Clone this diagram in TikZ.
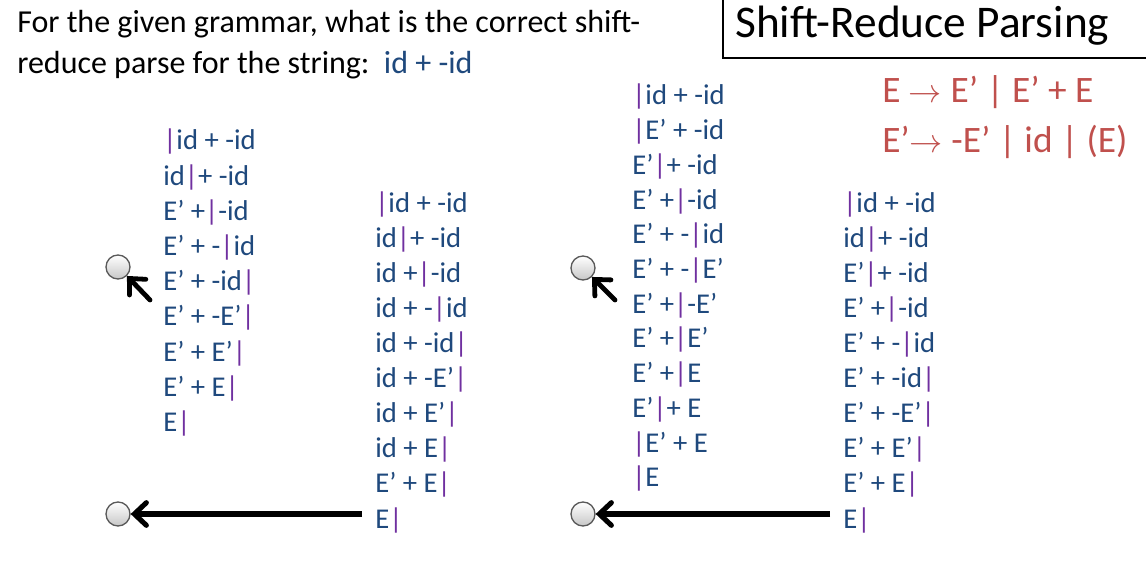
\documentclass[tikz,border=0pt]{standalone}
\usepackage{fontspec}
\setmainfont{Carlito}
\usetikzlibrary{arrows.meta}
\definecolor{navy}{HTML}{1F497D}
\definecolor{barpurple}{HTML}{7030A0}
\definecolor{gramred}{HTML}{C0504D}
\newcommand\pb{\textcolor{barpurple}{|}}
\tikzset{
  ln/.style={anchor=base west, inner sep=0pt, text=navy, font=\fontsize{21.5}{25}\selectfont},
  qtext/.style={anchor=base west, inner sep=0pt, text=black, font=\fontsize{24}{28}\selectfont},
  gram/.style={anchor=base west, inner sep=0pt, text=gramred, font=\fontsize{28}{32}\selectfont},
  radio/.style={circle, minimum size=18pt, inner sep=0pt, draw=black!65, line width=1pt, top color=white, bottom color=black!22},
  ptr/.style={draw=black, line width=3.6pt, line cap=round, line join=round, -{Straight Barb[length=9pt,width=17pt,line cap=round]}},
  lptr/.style={draw=black, line width=3.8pt, line join=round, -{Straight Barb[length=9pt,width=17pt,line cap=round]}},
}
\begin{document}
\begin{tikzpicture}[x=0.75pt,y=-0.75pt]
\useasboundingbox (0,0) rectangle (1146,573);
\fill[white] (0,0) rectangle (1146,573);
% question
\node[qtext] (q1) at (17,33) {For the given grammar, what is the correct shift-};
\node[qtext] (q2) at (17,74) {reduce parse for the string:\ \ \textcolor{navy}{id + -id}};
% title box
\draw[black, line width=1pt] (723,-2) -- (723,58) -- (1148,58);
\node[anchor=base west, inner sep=0pt, font=\fontsize{34}{38}\selectfont] (title) at (735,38) {Shift-Reduce Parsing};
% grammar
\node[gram] (g1) at (882,103) {E \ensuremath{\rightarrow} E’ | E’ + E};
\node[gram] (g2) at (882,153) {E’\ensuremath{\rightarrow} -E’ | id | (E)};
% column 1
\def\cy{35.2}
\node[ln] (a1) at (163,150) {\pb id + -id};
\node[ln] (a2) at (163,150+1*\cy) {id\pb+ -id};
\node[ln] (a3) at (163,150+2*\cy) {E’ +\pb-id};
\node[ln] (a4) at (163,150+3*\cy) {E’ + -\pb id};
\node[ln] (a5) at (163,150+4*\cy) {E’ + -id\pb};
\node[ln] (a6) at (163,150+5*\cy) {E’ + -E’\pb};
\node[ln] (a7) at (163,150+6*\cy) {E’ + E’\pb};
\node[ln] (a8) at (163,150+7*\cy) {E’ + E\pb};
\node[ln] (a9) at (163,150+8*\cy) {E\pb};
% column 2
\def\dy{35}
\node[ln] (b1) at (375,213) {\pb id + -id};
\node[ln] (b2) at (375,213+1*\dy) {id\pb+ -id};
\node[ln] (b3) at (375,213+2*\dy) {id +\pb-id};
\node[ln] (b4) at (375,213+3*\dy) {id + -\pb id};
\node[ln] (b5) at (375,213+4*\dy) {id + -id\pb};
\node[ln] (b6) at (375,213+5*\dy) {id + -E’\pb};
\node[ln] (b7) at (375,213+6*\dy) {id + E’\pb};
\node[ln] (b8) at (375,213+7*\dy) {id + E\pb};
\node[ln] (b9) at (375,213+8*\dy) {E’ + E\pb};
\node[ln] (b10) at (375,213+9*\dy) {E\pb};
% column 3
\def\ey{34.7}
\node[ln] (c1) at (632,105) {\pb id + -id};
\node[ln] (c2) at (632,105+1*\ey) {\pb E’ + -id};
\node[ln] (c3) at (632,105+2*\ey) {E’\pb+ -id};
\node[ln] (c4) at (632,105+3*\ey) {E’ +\pb-id};
\node[ln] (c5) at (632,105+4*\ey) {E’ + -\pb id};
\node[ln] (c6) at (632,105+5*\ey) {E’ + -\pb E’};
\node[ln] (c7) at (632,105+6*\ey) {E’ +\pb-E’};
\node[ln] (c8) at (632,105+7*\ey) {E’ +\pb E’};
\node[ln] (c9) at (632,105+8*\ey) {E’ +\pb E};
\node[ln] (c10) at (632,105+9*\ey) {E’\pb+ E};
\node[ln] (c11) at (632,105+10*\ey) {\pb E’ + E};
\node[ln] (c12) at (632,105+11*\ey) {\pb E};
% column 4
\node[ln] (d1) at (843,213) {\pb id + -id};
\node[ln] (d2) at (843,213+1*\dy) {id\pb+ -id};
\node[ln] (d3) at (843,213+2*\dy) {E’\pb+ -id};
\node[ln] (d4) at (843,213+3*\dy) {E’ +\pb-id};
\node[ln] (d5) at (843,213+4*\dy) {E’ + -\pb id};
\node[ln] (d6) at (843,213+5*\dy) {E’ + -id\pb};
\node[ln] (d7) at (843,213+6*\dy) {E’ + -E’\pb};
\node[ln] (d8) at (843,213+7*\dy) {E’ + E’\pb};
\node[ln] (d9) at (843,213+8*\dy) {E’ + E\pb};
\node[ln] (d10) at (843,213+9*\dy) {E\pb};
% radio circles
\node[radio] (r1) at (118,267) {};
\node[radio] (r2) at (118,514) {};
\node[radio] (r3) at (583,268) {};
\node[radio] (r4) at (583,514) {};
% arrows
\coordinate (t1) at (150,300);
\coordinate (t2) at (362,514);
\coordinate (t3) at (615,300);
\coordinate (t4) at (830,514);
\draw[ptr] (t1) -- (r1.-45);
\draw[lptr] (t2) -- (r2.east);
\draw[ptr] (t3) -- (r3.-45);
\draw[lptr] (t4) -- (r4.east);
\end{tikzpicture}
\end{document}
